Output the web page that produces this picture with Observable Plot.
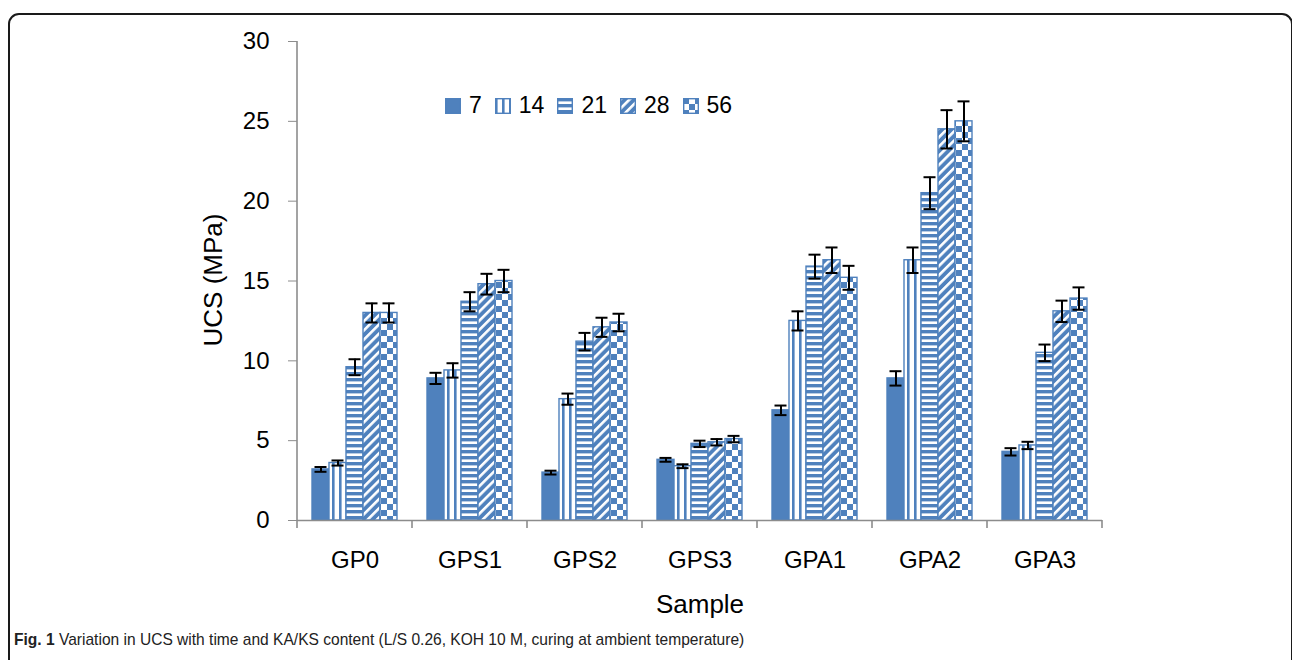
<!DOCTYPE html>
<html>
<head>
<meta charset="utf-8">
<script src="https://cdn.jsdelivr.net/npm/d3@7"></script>
<script src="https://cdn.jsdelivr.net/npm/@observablehq/plot@0.6"></script>
<style>
  html, body { margin: 0; padding: 0; background: #fff; overflow: hidden; }
  #wrap { position: relative; width: 1292px; height: 660px; overflow: hidden; font-family: "Liberation Sans", Arial, sans-serif; }
  #frame { position: absolute; left: 8px; top: 13px; width: 1281px; height: 720px; border: 2px solid #1a1a1a; border-radius: 11px; }
  #chart { position: absolute; left: 0; top: 0; }
  #ylabel { position: absolute; left: 213px; top: 280px; transform: translate(-50%, -50%) rotate(-90deg); font-size: 26px; white-space: nowrap; color: #000; }
  #xlabel { position: absolute; left: 700px; top: 604px; transform: translate(-50%, -50%); font-size: 26px; color: #000; }
  #legend { position: absolute; left: 445px; top: 92px; display: flex; align-items: center; font-size: 23px; color: #000; }
  #legend .item { display: flex; align-items: center; margin-right: 13px; }
  #legend svg { margin-right: 8px; }
  #caption { position: absolute; left: 14px; top: 630px; font-family: "Liberation Sans", sans-serif; font-size: 17px; color: #222; white-space: nowrap; transform: scaleX(0.915); transform-origin: 0 50%; }
</style>
</head>
<body>
<svg width="0" height="0" style="position:absolute">
  <defs>
    <pattern id="p7" patternUnits="userSpaceOnUse" width="6" height="6">
      <rect width="6" height="6" fill="#4F81BD"/>
    </pattern>
    <pattern id="p14" patternUnits="userSpaceOnUse" width="7" height="7">
      <rect width="7" height="7" fill="#fff"/>
      <rect x="0" width="2.6" height="7" fill="#4F81BD"/>
    </pattern>
    <pattern id="p21" patternUnits="userSpaceOnUse" width="6" height="6">
      <rect width="6" height="6" fill="#fff"/>
      <rect y="0" width="6" height="3.4" fill="#4F81BD"/>
    </pattern>
    <pattern id="p28" patternUnits="userSpaceOnUse" width="6.5" height="6.5" patternTransform="rotate(45)">
      <rect width="6.5" height="6.5" fill="#4F81BD"/>
      <rect x="0" width="2.6" height="6.5" fill="#fff"/>
    </pattern>
    <pattern id="p56" patternUnits="userSpaceOnUse" width="12" height="12">
      <rect width="12" height="12" fill="#fff"/>
      <rect x="0" y="0" width="6" height="6" fill="#4F81BD"/>
      <rect x="6" y="6" width="6" height="6" fill="#4F81BD"/>
    </pattern>
  </defs>
</svg>
<div id="wrap">
  <div id="frame"></div>
  <div id="chart"></div>
  <div id="ylabel">UCS (MPa)</div>
  <div id="xlabel">Sample</div>
  <div id="legend"></div>
  <div id="caption"><b>Fig. 1</b> Variation in UCS with time and KA/KS content (L/S 0.26, KOH 10 M, curing at ambient temperature)</div>
</div>
<script>
// ---- data ----
const groups = ["GP0", "GPS1", "GPS2", "GPS3", "GPA1", "GPA2", "GPA3"];
const ages = ["7", "14", "21", "28", "56"];
const ucs7  = [3.2, 8.9, 3.0, 3.8, 6.9, 8.9, 4.3];
const ucs14 = [3.6, 9.4, 7.6, 3.4, 12.5, 16.3, 4.7];
const ucs21 = [9.6, 13.7, 11.2, 4.8, 15.9, 20.5, 10.5];
const ucs28 = [13.0, 14.8, 12.1, 4.9, 16.3, 24.5, 13.1];
const ucs56 = [13.0, 15.0, 12.4, 5.1, 15.2, 25.0, 13.9];
const err7  = [0.15, 0.35, 0.12, 0.12, 0.3, 0.45, 0.23];
const err14 = [0.16, 0.45, 0.35, 0.12, 0.6, 0.8, 0.23];
const err21 = [0.5, 0.6, 0.55, 0.2, 0.75, 1.0, 0.52];
const err28 = [0.6, 0.65, 0.6, 0.2, 0.8, 1.2, 0.67];
const err56 = [0.6, 0.7, 0.55, 0.2, 0.75, 1.25, 0.7];
const yTicks = [0, 5, 10, 15, 20, 25, 30];

const values = {"7": ucs7, "14": ucs14, "21": ucs21, "28": ucs28, "56": ucs56};
const errors = {"7": err7, "14": err14, "21": err21, "28": err28, "56": err56};
const data = [];
groups.forEach((g, i) => ages.forEach(a => data.push({group: g, age: a, v: values[a][i], e: errors[a][i]})));

const blue = "#4F81BD";
const axisGray = "#8c8c8c";

const plot = Plot.plot({
  width: 1292,
  height: 620,
  marginLeft: 294,
  marginRight: 187,
  marginTop: 41,
  marginBottom: 100,
  style: {fontFamily: "Liberation Sans, Arial, sans-serif", background: "transparent", color: "#000"},
  fx: {domain: groups, padding: 0},
  x: {domain: ages, paddingInner: 0, paddingOuter: 0.72, axis: null},
  y: {domain: [0, 30]},
  marks: [
    ...ages.map(a => Plot.barY(data.filter(d => d.age === a), {
      fx: "group", x: "age", y: "v", fill: `url(#p${a})`, stroke: blue, strokeWidth: 1.4
    })),
    Plot.ruleY([0], {stroke: axisGray, strokeWidth: 1.6}),
    Plot.ruleX(data, {fx: "group", x: "age", y1: d => d.v - d.e, y2: d => d.v + d.e, stroke: "#000", strokeWidth: 2}),
    Plot.tickY(data, {fx: "group", x: "age", y: d => d.v - d.e, stroke: "#000", strokeWidth: 2, insetLeft: 2.5, insetRight: 2.5}),
    Plot.tickY(data, {fx: "group", x: "age", y: d => d.v + d.e, stroke: "#000", strokeWidth: 2, insetLeft: 2.5, insetRight: 2.5}),
    Plot.axisY({ticks: yTicks, tickSize: 9, tickPadding: 19, fontSize: 24, stroke: axisGray, fill: "#000", label: null, tickFormat: d3.format("d")}),
    Plot.axisFx({anchor: "bottom", tickSize: 0, tickPadding: 30, fontSize: 24, label: null})
  ]
});
document.getElementById("chart").appendChild(plot);

// axis line and category separator ticks, placed with the plot's own scales
const fx = plot.scale("fx");
const y = plot.scale("y");
const svg = d3.select(plot);
const y0 = y.apply(0), yTop = y.apply(30);
const left = fx.apply(groups[0]);
const bw = fx.bandwidth;
svg.append("line").attr("x1", left).attr("x2", left).attr("y1", yTop).attr("y2", y0 + 8)
  .attr("stroke", axisGray).attr("stroke-width", 1.6);
groups.forEach(g => {
  const xr = fx.apply(g) + bw;
  svg.append("line").attr("x1", xr).attr("x2", xr).attr("y1", y0).attr("y2", y0 + 8)
    .attr("stroke", axisGray).attr("stroke-width", 1.6);
});

// legend
const legend = document.getElementById("legend");
ages.forEach(a => {
  const item = document.createElement("div");
  item.className = "item";
  item.innerHTML = `<svg width="16" height="16"><rect x="0.7" y="0.7" width="14.6" height="14.6" fill="url(#p${a})" stroke="${blue}" stroke-width="1.4"/></svg><span>${a}</span>`;
  legend.appendChild(item);
});
</script>
</body>
</html>
